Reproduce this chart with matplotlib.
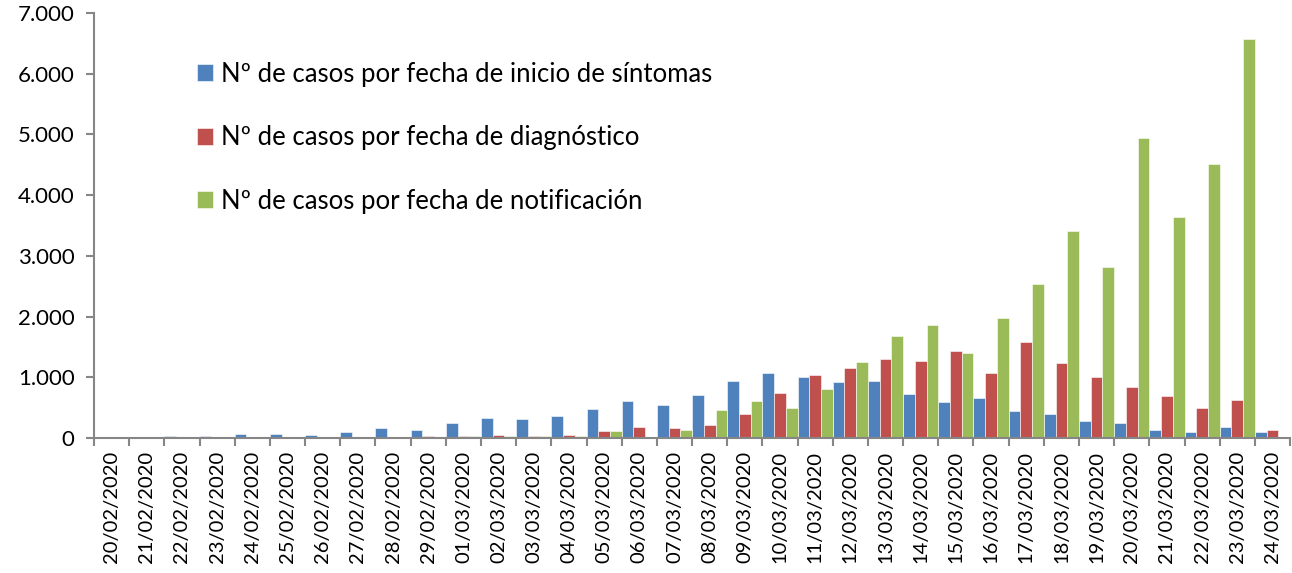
import numpy as np
import matplotlib
matplotlib.use("Agg")
import matplotlib.pyplot as plt
from matplotlib.ticker import FuncFormatter, FixedLocator

plt.rcParams['font.family'] = ['Lato', 'DejaVu Sans']

fechas = ["20/02/2020", "21/02/2020", "22/02/2020", "23/02/2020", "24/02/2020",
          "25/02/2020", "26/02/2020", "27/02/2020", "28/02/2020", "29/02/2020",
          "01/03/2020", "02/03/2020", "03/03/2020", "04/03/2020", "05/03/2020",
          "06/03/2020", "07/03/2020", "08/03/2020", "09/03/2020", "10/03/2020",
          "11/03/2020", "12/03/2020", "13/03/2020", "14/03/2020", "15/03/2020",
          "16/03/2020", "17/03/2020", "18/03/2020", "19/03/2020", "20/03/2020",
          "21/03/2020", "22/03/2020", "23/03/2020", "24/03/2020"]

inicio_sintomas = [4, 14, 25, 36, 58, 58, 52, 101, 157, 129,
                   255, 322, 313, 368, 472, 609, 550, 703, 939, 1066,
                   997, 926, 931, 717, 596, 656, 437, 398, 283, 255,
                   124, 102, 189, 102]
diagnostico = [0, 0, 0, 0, 0, 0, 0, 3, 5, 25,
               25, 44, 28, 44, 122, 176, 165, 220, 398, 745,
               1041, 1157, 1305, 1272, 1441, 1074, 1585, 1239, 997, 848,
               700, 497, 618, 129]
notificacion = [0, 0, 0, 0, 0, 0, 0, 0, 0, 14,
                30, 28, 39, 28, 122, 5, 127, 461, 609, 492,
                815, 1244, 1677, 1859, 1408, 1974, 2529, 3418, 2820, 4934,
                3633, 4506, 6570, 0]

series = [
    ("Nº de casos por fecha de inicio de síntomas", inicio_sintomas, "#4F81BD"),
    ("Nº de casos por fecha de diagnóstico", diagnostico, "#C0504D"),
    ("Nº de casos por fecha de notificación", notificacion, "#9BBB59"),
]

fig = plt.figure(figsize=(12.92, 5.73), dpi=100)
ax = fig.add_axes([0.0728, 0.2356, 0.9257, 0.7416])

x = np.arange(len(fechas))
w = 1 / 3
for i, (label, vals, color) in enumerate(series):
    ax.bar(x - 0.5 + w * (i + 0.5), vals, width=w, color=color, label=label,
           edgecolor="white", linewidth=0.4)

ax.set_xlim(-0.5, len(fechas) - 0.5)
ax.set_ylim(0, 7000)
ax.set_yticks(np.arange(0, 7001, 1000))
ax.yaxis.set_major_formatter(FuncFormatter(lambda v, p: f"{int(v):,}".replace(",", ".")))

# ticks at category boundaries, labels at the centres
ax.xaxis.set_major_locator(FixedLocator(np.arange(len(fechas) + 1) - 0.5))
ax.set_xticklabels([])
ax.set_xticks(x, minor=True)
ax.set_xticklabels(fechas, minor=True, rotation=90, fontsize=14.5)
ax.tick_params(axis="x", which="minor", length=0, pad=9)
ax.tick_params(axis="x", which="major", length=6, color="#868686", width=1.5)
ax.tick_params(axis="y", length=6, color="#868686", width=1.5, labelsize=16, pad=8)

for s in ["top", "right"]:
    ax.spines[s].set_visible(False)
for s in ["left", "bottom"]:
    ax.spines[s].set_color("#868686")
    ax.spines[s].set_linewidth(1.5)

ax.legend(loc="upper left", bbox_to_anchor=(0.067, 0.94), frameon=False,
          fontsize=18.5, labelspacing=1.5, handlelength=0.62, handleheight=0.62,
          handletextpad=0.3)

fig.savefig("out.png", dpi=100)
